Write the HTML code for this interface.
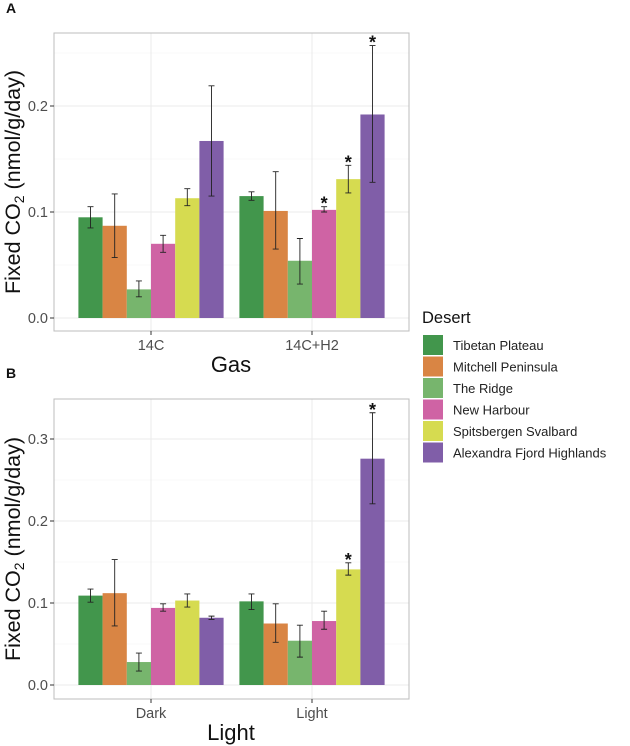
<!DOCTYPE html>
<html><head><meta charset="utf-8"><style>
html,body{margin:0;padding:0;background:#fff;}
svg{display:block;font-family:"Liberation Sans",Arial,sans-serif;}
</style></head><body>
<svg id="s" width="630" height="746" viewBox="0 0 630 746"></svg>
<script>
const seriesNames=["Tibetan Plateau","Mitchell Peninsula","The Ridge","New Harbour","Spitsbergen Svalbard","Alexandra Fjord Highlands"];
const colors=["#42964c","#d98544","#77b56d","#cf63a4","#d6db50","#805ea8"];
const catsA=["14C","14C+H2"];
const valsA=[[0.095,0.087,0.027,0.070,0.113,0.167],[0.115,0.101,0.054,0.102,0.131,0.192]];
const loA=[[0.085,0.057,0.020,0.062,0.106,0.115],[0.111,0.065,0.032,0.100,0.118,0.128]];
const hiA=[[0.105,0.117,0.035,0.078,0.122,0.219],[0.119,0.138,0.075,0.105,0.144,0.257]];
const starA=[[0,0,0,0,0,0],[0,0,0,1,1,1]];
const ticksA=[0,0.1,0.2];
const catsB=["Dark","Light"];
const valsB=[[0.109,0.112,0.028,0.094,0.103,0.082],[0.102,0.075,0.054,0.078,0.141,0.276]];
const loB=[[0.101,0.072,0.017,0.090,0.095,0.080],[0.092,0.052,0.034,0.068,0.134,0.221]];
const hiB=[[0.117,0.153,0.039,0.099,0.111,0.084],[0.111,0.099,0.073,0.090,0.149,0.332]];
const starB=[[0,0,0,0,0,0],[0,0,0,0,1,1]];
const ticksB=[0,0.1,0.2,0.3];
const NS="http://www.w3.org/2000/svg";
const svg=document.getElementById('s');
function el(tag,attrs,parent,text){const e=document.createElementNS(NS,tag);for(const k in attrs)e.setAttribute(k,attrs[k]);if(text!==undefined)e.textContent=text;(parent||svg).appendChild(e);return e;}
function panel(p){
 const g=el('g',{});
 
 
 const L=54,R=409,T=p.top,B=p.bottom;
 const y=v=>p.y0-v*p.scale;
 const cx=[151,312];
 el('rect',{x:L,y:T,width:R-L,height:B-T,fill:'#fff'},g);
 for(let i=0;i<p.ticks.length;i++){const v=p.ticks[i]+0.05;const yy=y(v);if(yy>T)el('line',{x1:L,x2:R,y1:yy,y2:yy,stroke:'#f2f2f2','stroke-width':0.6},g);}
 p.ticks.forEach(t=>{el('line',{x1:L,x2:R,y1:y(t),y2:y(t),stroke:'#ebebeb','stroke-width':1},g);});
 cx.forEach(c=>el('line',{x1:c,x2:c,y1:T,y2:B,stroke:'#ebebeb','stroke-width':1},g));
 const bw=24.2;
 p.vals.forEach((grp,gi)=>{grp.forEach((v,si)=>{
  const x0=cx[gi]-3*bw+si*bw;
  const r=el('rect',{x:x0,y:y(v),width:bw,height:y(0)-y(v),fill:colors[si]},g);
  
  
  const mx=x0+bw/2;
  const eb=el('path',{d:`M${mx-3},${y(p.hi[gi][si])}H${mx+3}M${mx},${y(p.hi[gi][si])}V${y(p.lo[gi][si])}M${mx-3},${y(p.lo[gi][si])}H${mx+3}`,stroke:'#222','stroke-width':0.9,fill:'none'},g);
  
  
  if(p.star[gi][si]){const s=el('text',{x:mx,y:y(p.hi[gi][si])+3,'text-anchor':'middle','font-size':18,'font-weight':'bold',fill:'#111'},g,'*');
   }
 });});
 el('rect',{x:L,y:T,width:R-L,height:B-T,fill:'none',stroke:'#bdbdbd','stroke-width':1},g);
 p.ticks.forEach(t=>{
  el('line',{x1:L-4,x2:L,y1:y(t),y2:y(t),stroke:'#333'},g);
  const tl=el('text',{x:L-6,y:y(t)+5,'text-anchor':'end','font-size':14.5,fill:'#4d4d4d'},g,t.toFixed(1));
  
 });
 p.cats.forEach((c,i)=>{el('line',{x1:cx[i],x2:cx[i],y1:B,y2:B+4,stroke:'#333'},g);
  const tl=el('text',{x:cx[i],y:B+19,'text-anchor':'middle','font-size':14.5,fill:'#4d4d4d'},g,c);
  });
 const xt=el('text',{x:231,y:B+41,'text-anchor':'middle','font-size':22,fill:'#111'},g,p.xtitle);
 
 const yt=el('text',{transform:`translate(20,${(T+B)/2}) rotate(-90)`,'text-anchor':'middle','font-size':21.5,fill:'#111'},g);
 
 el('tspan',{},yt,'Fixed CO');el('tspan',{'font-size':14,dy:4},yt,'2');el('tspan',{dy:-4},yt,' (nmol/g/day)');
 const lb=el('text',{x:6,y:p.labelY,'font-size':14,'font-weight':'bold',fill:'#111'},g,p.label);
 
}
panel({name:'panel-a',top:33,bottom:331,y0:318,scale:1060,vals:valsA,lo:loA,hi:hiA,star:starA,cats:catsA,ticks:ticksA,xtitle:'Gas',label:'A',labelY:13});
panel({name:'panel-b',top:399,bottom:699,y0:685,scale:820,vals:valsB,lo:loB,hi:hiB,star:starB,cats:catsB,ticks:ticksB,xtitle:'Light',label:'B',labelY:378});
const lg=el('g',{});

el('text',{x:422,y:323,'font-size':16.5,fill:'#111'},lg,'Desert');
seriesNames.forEach((n,i)=>{
 const yy=335+i*21.5;
 const e=el('g',{},lg);
 
 el('rect',{x:423,y:yy,width:20,height:20,fill:colors[i]},e);
 el('text',{x:453,y:yy+15,'font-size':13,fill:'#222'},e,n);
});
</script>
</body></html>
